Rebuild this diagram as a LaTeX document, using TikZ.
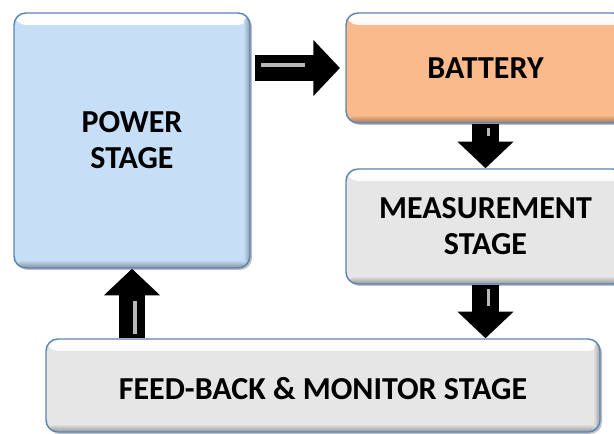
\documentclass[tikz,border=0pt]{standalone}
\usepackage{fontspec}
\setmainfont{Carlito}
\usetikzlibrary{arrows.meta,shadows,calc}
\definecolor{bluefill}{HTML}{C6DFF6}
\definecolor{orangefill}{HTML}{FBBA8B}
\definecolor{greyfill}{HTML}{E6E6E6}
\definecolor{edgeblue}{HTML}{5A85B5}
\begin{document}
\begin{tikzpicture}[x=0.75pt,y=-0.75pt,
  box/.style={draw=edgeblue, line width=1.1pt, rounded corners=9pt, fill=#1,
    drop shadow={shadow xshift=1.5pt, shadow yshift=-1.5pt, fill=black!50, opacity=0.5},
    path picture={
      \shade[top color=white, bottom color=#1]
        (path picture bounding box.north west) rectangle ($(path picture bounding box.north east)+(0,-9pt)$);
      \shade[top color=#1, bottom color=#1!65!black]
        ($(path picture bounding box.south west)+(0,6pt)$) rectangle (path picture bounding box.south east);
      \shade[left color=#1, right color=#1!70!black]
        ($(path picture bounding box.north east)+(-5pt,0)$) rectangle (path picture bounding box.south east);
    },
    font=\bfseries\fontsize{24}{27}\selectfont, align=center, inner sep=0pt},
  fat/.style={line width=20pt, black, -{Triangle[width=41pt,length=20pt]}},
  shine/.style={line width=2.5pt, gray!55}
]
\useasboundingbox (0,0) rectangle (614,434);

\node[box=bluefill, minimum width=177pt, minimum height=191.25pt] (power) at (132,140.5) {POWER\\STAGE};
\node[box=orangefill, minimum width=209.25pt, minimum height=82.5pt] (battery) at (485.5,68) {BATTERY};
\node[box=greyfill, minimum width=209.25pt, minimum height=86.25pt] (meas) at (485.5,226.5) {MEASUREMENT\\STAGE};
\node[box=greyfill, minimum width=415.5pt, minimum height=69.75pt, text depth=0pt] (fb) at (323,385.5) {\raisebox{-4pt}{FEED-BACK \& MONITOR STAGE}};

% fat arrows
\draw[fat, shorten <=3.5pt, shorten >=4pt] (power.east |- battery.west) -- (battery.west);
\draw[shine, shorten <=8pt, shorten >=30pt] ($(power.east |- battery.west)+(0,-3)$) -- ($(battery.west)+(0,-3)$);

\draw[fat] (battery.south) -- (meas.north);
\draw[shine, shorten <=3pt, shorten >=24pt] ($(battery.south)+(3,0)$) -- ($(meas.north)+(3,0)$);

\draw[fat] (meas.south) -- (meas.south |- fb.north);
\draw[shine, shorten <=3pt, shorten >=24pt] ($(meas.south)+(3,0)$) -- ($(meas.south |- fb.north)+(3,0)$);

\draw[fat] (fb.north -| power.south) -- (power.south);
\draw[shine, shorten <=3pt, shorten >=24pt] ($(fb.north -| power.south)+(3,0)$) -- ($(power.south)+(3,0)$);
\end{tikzpicture}
\end{document}
